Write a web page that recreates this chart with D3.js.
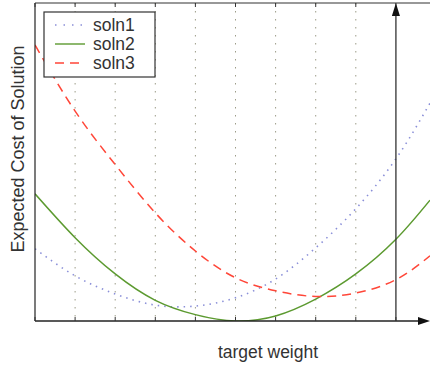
<!DOCTYPE html>
<html>
<head>
<meta charset="utf-8">
<script src="https://d3js.org/d3.v7.min.js"></script>
<style>
body { margin: 0; background: #fff; }
text { font-family: "Liberation Sans", Arial, sans-serif; fill: #333; }
</style>
</head>
<body>
<svg width="430" height="366"></svg>
<script>
// target weight positions (x) and expected cost per solution (y)
var xs    = [0, 1, 2, 3, 4, 5, 6, 7, 8, 9, 9.85];
var soln1 = [2.27, 1.42, 0.85, 0.5, 0.47, 0.73, 1.32, 2.3, 3.53, 5.1, 6.85];
var soln2 = [4.0, 2.62, 1.48, 0.65, 0.2, 0.0, 0.16, 0.69, 1.48, 2.57, 3.8];
var soln3 = [8.68, 6.6, 4.92, 3.4, 2.2, 1.36, 0.95, 0.77, 0.88, 1.3, 2.05];
var gridX = [1, 2, 3, 4, 5, 6, 7, 8];
var tickX = [0, 1, 2, 3, 4, 5, 6, 7, 8, 9];
var names = ["soln1", "soln2", "soln3"];
var colors = ["#8a8fd8", "#5c9a30", "#ff4638"];
var dashes = ["1.5,5", null, "9,6"];

var pLeft = 35, pTop = 3, pBottom = 321, pRight = 430;

var svg = d3.select("svg");

var x = d3.scaleLinear().domain([0, 9.85]).range([pLeft, pRight]);
var y = d3.scaleLinear().domain([0, 10]).range([pBottom, pTop]);

// dotted grid
svg.selectAll(".grid")
   .data(gridX)
   .enter()
   .append("line")
     .attr("x1", function(d) { return x(d); })
     .attr("x2", function(d) { return x(d); })
     .attr("y1", pTop)
     .attr("y2", pBottom)
     .attr("stroke", "#9c9c88")
     .attr("stroke-width", 1)
     .attr("stroke-dasharray", "1.5,6.5");

// curves
var line = d3.line()
   .x(function(d) { return x(d[0]); })
   .y(function(d) { return y(d[1]); })
   .curve(d3.curveNatural);

var series = [soln1, soln2, soln3];
svg.append("defs").append("clipPath").attr("id", "clip")
   .append("rect").attr("x", pLeft).attr("y", pTop).attr("width", pRight - pLeft).attr("height", pBottom - pTop);

series.forEach(function(s, i) {
  svg.append("path")
     .datum(xs.map(function(v, j) { return [v, s[j]]; }))
     .attr("d", line)
     .attr("clip-path", "url(#clip)")
     .attr("fill", "none")
     .attr("stroke", colors[i])
     .attr("stroke-width", i == 0 ? 1.6 : 1.5)
     .attr("stroke-dasharray", dashes[i]);
});

// axes: left, top, bottom
svg.append("line").attr("x1", pLeft).attr("x2", pLeft).attr("y1", pTop).attr("y2", pBottom)
   .attr("stroke", "#222").attr("stroke-width", 1.2);
svg.append("line").attr("x1", pLeft).attr("x2", pRight).attr("y1", pTop).attr("y2", pTop)
   .attr("stroke", "#333").attr("stroke-width", 1.2);
svg.append("line").attr("x1", pLeft).attr("x2", 424).attr("y1", pBottom).attr("y2", pBottom)
   .attr("stroke", "#222").attr("stroke-width", 1.4);

// ticks
svg.selectAll(".tb")
   .data(tickX)
   .enter()
   .append("line")
     .attr("x1", function(d) { return x(d); })
     .attr("x2", function(d) { return x(d); })
     .attr("y1", pBottom)
     .attr("y2", pBottom - 4)
     .attr("stroke", "#333");
svg.selectAll(".tt")
   .data(tickX)
   .enter()
   .append("line")
     .attr("x1", function(d) { return x(d); })
     .attr("x2", function(d) { return x(d); })
     .attr("y1", pTop)
     .attr("y2", pTop + 4)
     .attr("stroke", "#333");

// arrows
var ax = x(9);
svg.append("line").attr("x1", ax).attr("x2", ax).attr("y1", 14).attr("y2", pBottom)
   .attr("stroke", "#333").attr("stroke-width", 1.3);
svg.append("path").attr("d", "M" + ax + "," + pTop + " L" + (ax - 4) + ",16 L" + (ax + 4) + ",16 Z")
   .attr("fill", "#111");
svg.append("path").attr("d", "M430," + pBottom + " L418," + (pBottom - 4) + " L418," + (pBottom + 4) + " Z")
   .attr("fill", "#111");

// legend
var lg = svg.append("g");
lg.append("rect").attr("x", 44).attr("y", 12).attr("width", 111).attr("height", 65)
  .attr("fill", "#fff").attr("stroke", "#333").attr("stroke-width", 1.2);
names.forEach(function(n, i) {
  var ly = 25 + i * 19;
  lg.append("line").attr("x1", 55).attr("x2", 85).attr("y1", ly).attr("y2", ly)
    .attr("stroke", colors[i]).attr("stroke-width", i == 0 ? 1.6 : 1.4)
    .attr("stroke-dasharray", i == 0 ? "1.5,7" : dashes[i]);
  lg.append("text").attr("x", 93).attr("y", ly + 6).attr("font-size", 17.5).text(n);
});

// labels
svg.append("text").attr("x", 268).attr("y", 358).attr("text-anchor", "middle")
   .attr("font-size", 17.5).text("target weight");
svg.append("text").attr("transform", "translate(24,149) rotate(-90)").attr("text-anchor", "middle")
   .attr("font-size", 18).text("Expected Cost of Solution");
</script>
</body>
</html>
